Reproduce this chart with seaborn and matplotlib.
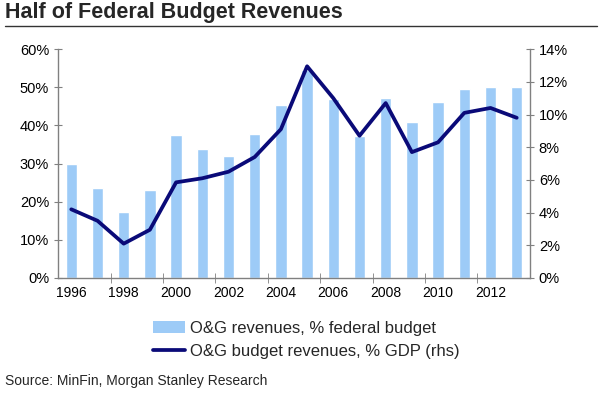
import numpy as np
import pandas as pd
import matplotlib
matplotlib.use('Agg')
import matplotlib.pyplot as plt
import seaborn as sns
from matplotlib.lines import Line2D
from matplotlib.patches import Patch
from matplotlib.ticker import FuncFormatter, FixedLocator

# Data
years = [str(y) for y in range(1996, 2014)]
budget_share = [29.8, 23.5, 17.2, 23.1, 37.4, 33.8, 32.0, 37.8, 45.4, 54.5,
                47.0, 37.2, 47.3, 40.8, 46.2, 49.6, 50.1, 50.1]
gdp_share = [4.2, 3.5, 2.1, 2.95, 5.85, 6.1, 6.5, 7.4, 9.1, 12.95,
             11.0, 8.7, 10.7, 7.7, 8.3, 10.1, 10.4, 9.8]

bar_label = 'O&G revenues, % federal budget'
line_label = 'O&G budget revenues, % GDP (rhs)'
bar_color = '#9DCBF7'
line_color = '#0A0A78'
spine_color = '#808080'

df = pd.DataFrame({'year': years, 'budget': budget_share, 'gdp': gdp_share})

sns.set_style('white')
plt.rcParams['font.family'] = ['Liberation Sans', 'DejaVu Sans']

fig = plt.figure(figsize=(6, 3.96), dpi=100)
ax = fig.add_axes([0.097, 0.298, 0.786, 0.578])

sns.barplot(data=df, x='year', y='budget', color=bar_color, width=0.44,
            saturation=1, ax=ax)
ax2 = ax.twinx()
sns.pointplot(data=df, x='year', y='gdp', color=line_color, markers='',
              linewidth=2.7, errorbar=None, ax=ax2)

ax.set_xlim(-0.5, 17.5)
ax.set_ylim(0, 60)
ax2.set_ylim(0, 14)
ax.set_yticks(np.arange(0, 61, 10))
ax2.set_yticks(np.arange(0, 15, 2))
ax.yaxis.set_major_formatter(FuncFormatter(lambda v, p: f'{v:.0f}%'))
ax2.yaxis.set_major_formatter(FuncFormatter(lambda v, p: f'{v:.0f}%'))

ax.set_xticks(range(0, 18, 2))
ax.set_xticklabels(years[::2])
ax.xaxis.set_minor_locator(FixedLocator(np.arange(1.5, 16, 2)))
ax.tick_params(axis='x', which='major', length=0, labelsize=10, pad=6,
               labelcolor='black')
ax.tick_params(axis='x', which='minor', direction='inout', length=7,
               color=spine_color, bottom=True)
ax.tick_params(axis='y', direction='inout', length=6, color=spine_color,
               labelsize=10.5, left=True, labelcolor='black')
ax2.tick_params(axis='y', direction='inout', length=6, color=spine_color,
                labelsize=10.5, right=True, labelcolor='black')

ax.set_xlabel('')
ax.set_ylabel('')
ax2.set_xlabel('')
ax2.set_ylabel('')

for a in (ax, ax2):
    a.spines['top'].set_visible(False)
    for s in ('left', 'right', 'bottom'):
        a.spines[s].set_color(spine_color)
        a.spines[s].set_linewidth(1.0)
ax.spines['right'].set_visible(False)
ax2.spines['left'].set_visible(False)
ax2.spines['bottom'].set_visible(False)

# title with underline
fig.text(0.008, 0.968, 'Half of Federal Budget Revenues', fontsize=15.5,
         fontweight='bold', ha='left', va='center')
fig.add_artist(Line2D([0.008, 0.995], [0.934, 0.934], color='#333333', lw=1.0))

handles = [Patch(facecolor=bar_color, edgecolor='none', label=bar_label),
           Line2D([0], [0], color=line_color, lw=2.7, label=line_label)]
fig.legend(handles=handles, loc='center', bbox_to_anchor=(0.51, 0.142),
           frameon=False, fontsize=12.0, handlelength=1.9, handletextpad=0.3,
           labelspacing=0.45, borderpad=0.2)

fig.text(0.008, 0.038, 'Source: MinFin, Morgan Stanley Research', fontsize=10,
         ha='left', va='center')

fig.savefig('out.png', dpi=100)
